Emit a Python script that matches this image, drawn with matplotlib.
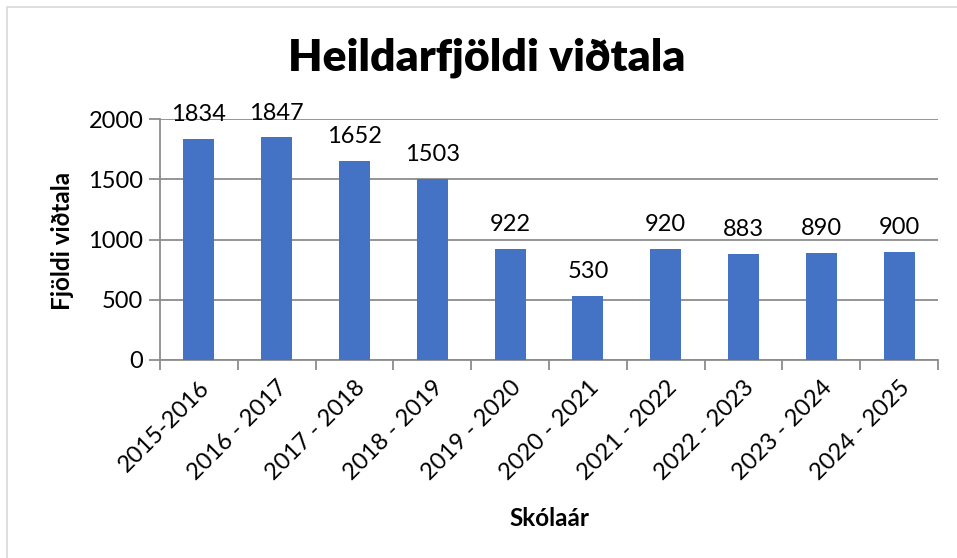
import numpy as np
import matplotlib.pyplot as plt
from matplotlib.patches import Rectangle

# Gögn
skolaar = ['2015-2016', '2016 - 2017', '2017 - 2018', '2018 - 2019', '2019 - 2020',
           '2020 - 2021', '2021 - 2022', '2022 - 2023', '2023 - 2024', '2024 - 2025']
vidtol = [1834, 1847, 1652, 1503, 922, 530, 920, 883, 890, 900]
y_ticks = [0, 500, 1000, 1500, 2000]

plt.rcParams['font.family'] = ['Lato', 'DejaVu Sans']

fig = plt.figure(figsize=(9.57, 5.58), dpi=100)
ax = fig.add_axes([160 / 957, 1 - 360 / 558, (938 - 160) / 957, (360 - 119) / 558])

# rammi utan um myndina
fig.patches.append(Rectangle((7 / 957, -0.1), 2, 1 - 7 / 558 + 0.1, transform=fig.transFigure,
                             fill=False, edgecolor='#d9d9d9', lw=1.2))

x = np.arange(len(skolaar))
ax.bar(x, vidtol, width=0.4, color='#4472C4', zorder=3)

for xi, v in zip(x, vidtol):
    ax.annotate(str(v), (xi, v), xytext=(0, 10), textcoords='offset points',
                ha='center', va='bottom', fontsize=17, color='black')

ax.set_xlim(-0.5, len(skolaar) - 0.5)
ax.set_ylim(0, 2000)
ax.set_yticks(y_ticks)
ax.yaxis.grid(True, color='#8c8c8c', lw=1.3, zorder=0)
ax.set_axisbelow(True)

ax.set_xticks(x)
ax.set_xticklabels(skolaar, rotation=45, ha='right', rotation_mode='anchor', fontsize=17)
ax.set_xticks(np.arange(len(skolaar) + 1) - 0.5, minor=True)
ax.tick_params(axis='x', which='major', length=0, pad=12)
ax.tick_params(axis='x', which='minor', length=7, color='#8c8c8c', width=1.3, direction='out')
ax.tick_params(axis='y', length=8, color='#8c8c8c', width=1.3, labelsize=17, pad=4)

for s in ['top', 'right']:
    ax.spines[s].set_visible(False)
for s in ['left', 'bottom']:
    ax.spines[s].set_color('#8c8c8c')
    ax.spines[s].set_linewidth(1.3)

fig.text(487 / 957, 1 - 58 / 558, 'Heildarfjöldi viðtala', ha='center', va='center',
         fontsize=32, fontweight='heavy')
fig.text(62 / 957, 1 - 241 / 558, 'Fjöldi viðtala', ha='center', va='center',
         rotation=90, fontsize=17.5, fontweight='bold')
fig.text(549 / 957, 1 - 518 / 558, 'Skólaár', ha='center', va='center',
         fontsize=17.5, fontweight='bold')

fig.savefig('out.png', dpi=100)
